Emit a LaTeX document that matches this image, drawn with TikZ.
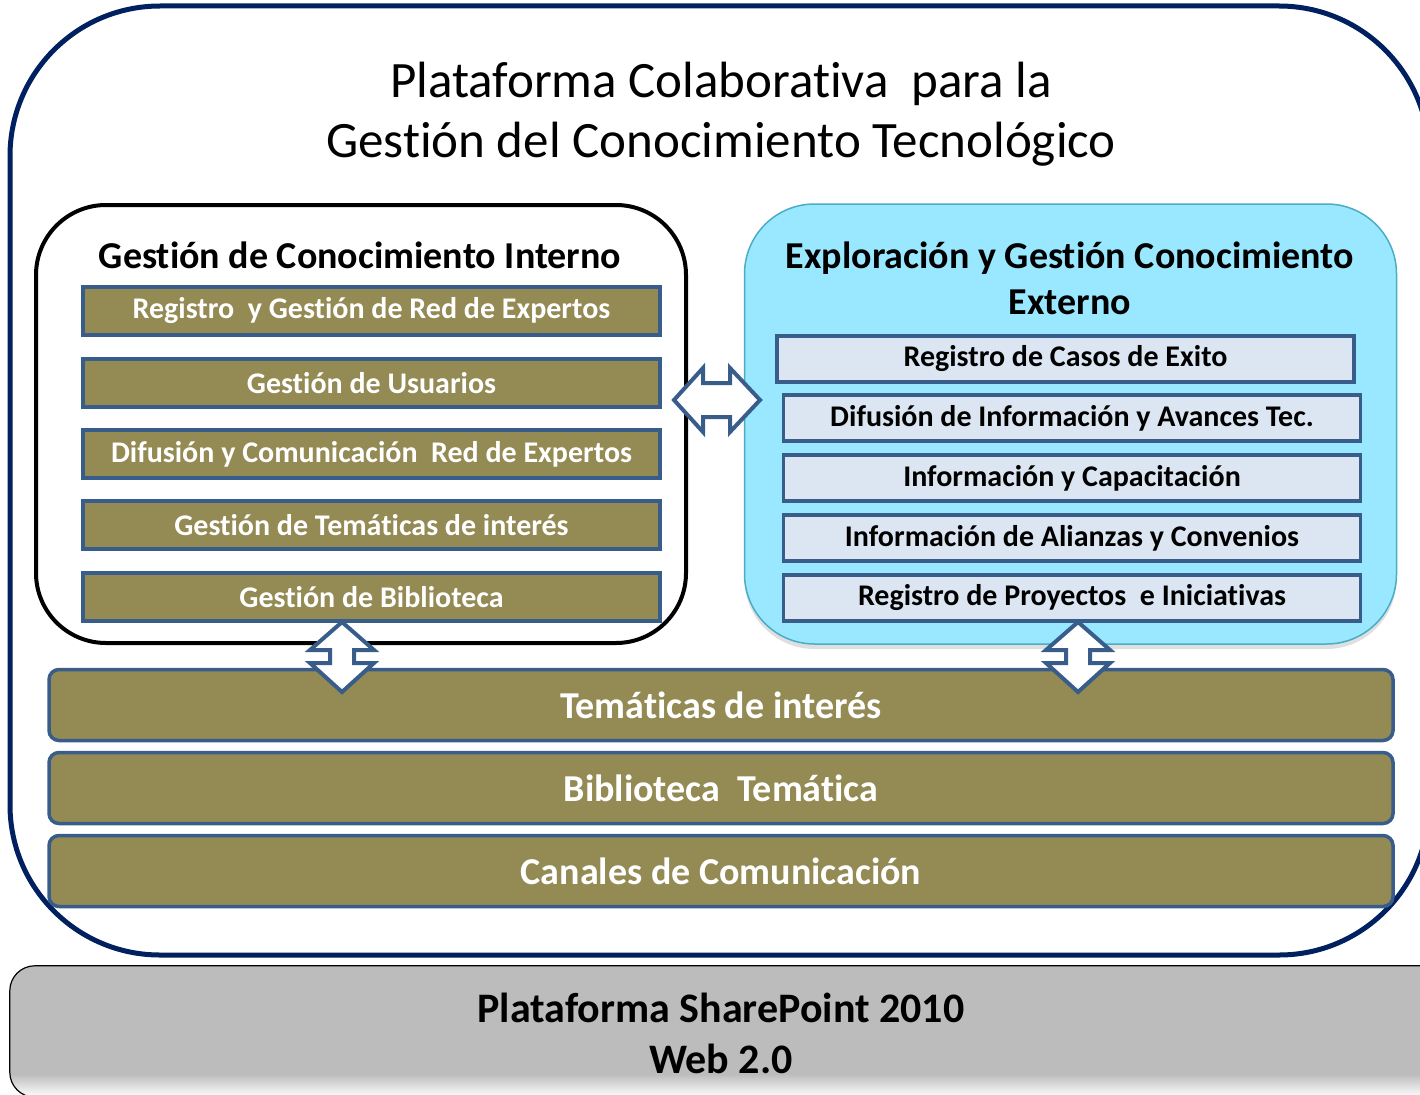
\documentclass[tikz,border=0pt]{standalone}
\usepackage{fontspec}
\setmainfont{Carlito}[Ligatures=CommonOff]
\usetikzlibrary{shadows}
\definecolor{marco}{RGB}{0,32,96}
\definecolor{oliva}{RGB}{148,138,84}
\definecolor{borde}{RGB}{56,93,138}
\definecolor{celeste}{RGB}{153,232,255}
\definecolor{celesteborde}{RGB}{75,172,198}
\definecolor{azulclaro}{RGB}{220,230,242}
\definecolor{gris}{RGB}{188,188,188}
\tikzset{
  caja/.style={draw=borde, line width=3.5pt, fill=oliva, text=white,
    font=\fontsize{30}{34}\selectfont\bfseries,
    minimum width=577pt, minimum height=48pt, inner sep=0pt},
  cajaext/.style={caja, fill=azulclaro, text=black, minimum height=46pt},
  barra/.style={draw=borde, line width=3.5pt, fill=oliva, rounded corners=10pt,
    text=white, font=\fontsize{38}{44}\selectfont\bfseries,
    minimum width=1344pt, minimum height=71pt, inner sep=0pt},
  bloque/.style={draw=borde, fill=white, line width=4pt, line join=miter},
  subtitulo/.style={font=\fontsize{38}{46}\selectfont\bfseries, align=center},
}
\begin{document}
\begin{tikzpicture}[x=1pt,y=-1pt]
	\useasboundingbox (0,0) rectangle (1420,1094);
	\clip (0,0) rectangle (1420,1094);
	% marco de la plataforma
	\node[draw=marco, line width=5pt, rounded corners=150pt,
		minimum width=1419pt, minimum height=949pt] (plataforma) at (719.5,480.5) {};
	\node[font=\fontsize{51}{60}\selectfont, align=center] (titulo) at (721,114)
		{Plataforma Colaborativa\ \ para la\\Gestión del Conocimiento Tecnológico};
	% conocimiento interno
	\node[draw=black, line width=4pt, rounded corners=70pt,
		minimum width=650pt, minimum height=438pt] (interno) at (361,424) {};
	\node[subtitulo] (titint) at (360,255) {Gestión de Conocimiento Interno};
	\node[caja] (registro) at (371.5,311) {Registro\ \ y Gestión de Red de Expertos};
	\node[caja] (usuarios) at (371.5,383) {Gestión de Usuarios};
	\node[caja] (difusion) at (371.5,454) {Difusión y Comunicación\ \ Red de Expertos};
	\node[caja] (tematicas) at (371.5,525) {Gestión de Temáticas de interés};
	\node[caja] (biblioteca) at (371.5,597) {Gestión de Biblioteca};
	% conocimiento externo
	\node[draw=celesteborde, line width=1.5pt, fill=celeste, rounded corners=70pt,
		minimum width=652pt, minimum height=440pt,
		drop shadow={shadow xshift=0pt, shadow yshift=-5pt, opacity=0.25}] (externo) at (1070.5,424) {};
	\node[subtitulo] (titext) at (1070,278) {Exploración y Gestión Conocimiento\\Externo};
	\node[cajaext] (casos) at (1065.5,359) {Registro de Casos de Exito};
	\node[cajaext] (avances) at (1072,418) {Difusión de Información y Avances Tec.};
	\node[cajaext] (capacitacion) at (1072,478) {Información y Capacitación};
	\node[cajaext] (alianzas) at (1072,538) {Información de Alianzas y Convenios};
	\node[cajaext] (proyectos) at (1072,598) {Registro de Proyectos\ \ e Iniciativas};
	% barras
	\node[barra] (bartem) at (721,705) {Temáticas de interés};
	\node[barra] (barbib) at (721,788) {Biblioteca\ \ Temática};
	\node[barra] (barcan) at (721,871) {Canales de Comunicación};
	% sharepoint
	\node[fill=gris, rounded corners=25pt, minimum width=1435pt, minimum height=131pt] (sharepoint) at (727.5,1031.5) {};
	\begin{scope}
		\clip[rounded corners=25pt] (sharepoint.north west) rectangle (sharepoint.south east);
		\shade[top color=gris, bottom color=white] (10,1074) rectangle (1445,1097);
	\end{scope}
	\draw[line width=1.2pt, rounded corners=25pt] (sharepoint.north west) rectangle (sharepoint.south east);
	\node[font=\fontsize{42}{51}\selectfont\bfseries, align=center] (sptexto) at (721,1033)
		{Plataforma SharePoint 2010\\Web 2.0};
	% flechas
	\coordinate (hflecha) at (717,400);
	\coordinate (vflecha1) at (342,657);
	\coordinate (vflecha2) at (1078,657);
	\draw[bloque, shift={(hflecha)}] (-43,0) -- (-14,-32) -- (-14,-17) -- (13,-17) -- (13,-32)
		-- (43,0) -- (13,32) -- (13,17) -- (-14,17) -- (-14,32) -- cycle;
	\foreach \c in {vflecha1,vflecha2}
		\draw[bloque, shift={(\c)}] (0,-35) -- (32,-7) -- (12,-7) -- (12,6) -- (32,6)
			-- (0,35) -- (-32,6) -- (-12,6) -- (-12,-7) -- (-32,-7) -- cycle;
\end{tikzpicture}
\end{document}
